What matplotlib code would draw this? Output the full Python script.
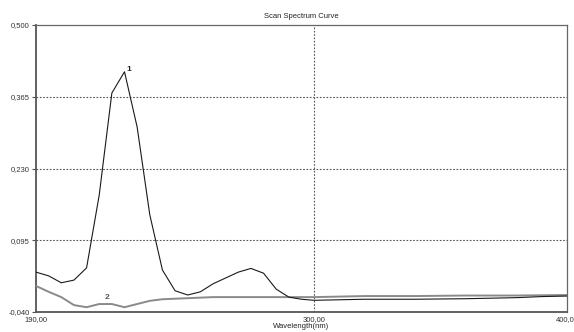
import matplotlib
matplotlib.use("Agg")
import matplotlib.pyplot as plt

plt.rcParams['font.family'] = ['Liberation Sans', 'DejaVu Sans']

# Curve 1 (black)
wl1 = [190, 195, 200, 205, 210, 215, 220, 225, 230, 235, 240, 245, 250, 255,
       260, 265, 270, 275, 280, 285, 290, 295, 300, 320, 340, 360, 380, 390, 400]
abs1 = [0.035, 0.028, 0.015, 0.020, 0.043, 0.180, 0.372, 0.412, 0.308, 0.143,
        0.039, 0.000, -0.008, -0.002, 0.013, 0.024, 0.035, 0.042, 0.033, 0.003,
        -0.012, -0.016, -0.018, -0.016, -0.016, -0.015, -0.013, -0.011, -0.010]

# Curve 2 (grey)
wl2 = [190, 195, 200, 205, 210, 215, 220, 225, 230, 235, 240, 245, 250, 260,
       280, 300, 320, 340, 360, 380, 400]
abs2 = [0.009, -0.002, -0.012, -0.027, -0.031, -0.025, -0.025, -0.031, -0.025,
        -0.019, -0.016, -0.015, -0.014, -0.012, -0.012, -0.012, -0.010, -0.010,
        -0.009, -0.009, -0.008]

yticks = [-0.040, 0.095, 0.230, 0.365, 0.500]
ytick_labels = ["-0,040", "0,095", "0,230", "0,365", "0,500"]
xticks = [190, 300, 400]
xtick_labels = ["190,00", "300,00", "400,00"]

fig = plt.figure(figsize=(5.74, 3.32), dpi=100)
ax = fig.add_axes([36/574, 1 - 312/332, (567-36)/574, (312-25)/332])

ax.plot(wl2, abs2, color="#8a8a8a", lw=1.4, zorder=3)
ax.plot(wl1, abs1, color="#1a1a1a", lw=0.8, zorder=4)

ax.set_xlim(190, 400)
ax.set_ylim(-0.040, 0.500)
ax.set_yticks(yticks)
ax.set_yticklabels(ytick_labels)
ax.set_xticks(xticks)
ax.set_xticklabels(xtick_labels)
ax.tick_params(axis='y', length=3, width=0.8, color="#555555", labelsize=5.5, pad=1.5, labelcolor="#333333")
ax.tick_params(axis='x', length=0, labelsize=5.5, pad=3, labelcolor="#333333")

for v in [0.095, 0.230, 0.365]:
    ax.axhline(v, color="#555555", lw=0.8, ls=(0, (1.5, 1.5)), zorder=1)
ax.axvline(300, color="#555555", lw=0.8, ls=(0, (1.5, 1.5)), zorder=1)

for s in ['left', 'bottom']:
    ax.spines[s].set_color("#555555")
    ax.spines[s].set_linewidth(1.3)
for s in ['top', 'right']:
    ax.spines[s].set_color("#666666")
    ax.spines[s].set_linewidth(0.9)

ax.text(225.8, 0.414, "1", fontsize=6, fontweight='bold', color="#222222")
ax.text(217.0, -0.016, "2", fontsize=6, fontweight='bold', color="#555555")

fig.text(301/574, 1 - 17/332, "Scan Spectrum Curve", ha='center', va='center',
         fontsize=5.5, color="#222222")
fig.text(301/574, 1 - 327/332, "Wavelength(nm)", ha='center', va='center',
         fontsize=5.5, color="#222222")

fig.savefig("out.png", dpi=100)
